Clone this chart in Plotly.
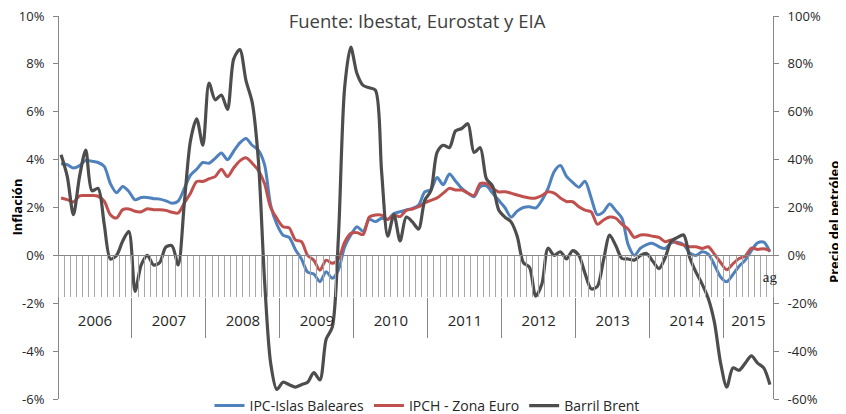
import plotly.graph_objects as go

# ---------------- data ----------------
years = [2006, 2007, 2008, 2009, 2010, 2011, 2012, 2013, 2014, 2015]
months_per_year = [12, 12, 12, 12, 12, 12, 12, 12, 12, 8]
year_labels = ["2006", "2007", "2008", "2009", "2010", "2011", "2012", "2013", "2014", "2015"]

ipc_baleares = [
    3.83, 3.79, 3.65, 3.75, 3.97, 3.93, 3.88, 3.72, 3.00, 2.62, 2.88, 2.67,
    2.32, 2.42, 2.42, 2.37, 2.35, 2.28, 2.18, 2.27, 2.80, 3.35, 3.60, 3.88,
    3.85, 4.05, 4.28, 4.00, 4.35, 4.70, 4.88, 4.60, 4.40, 3.80, 2.10, 1.30,
    0.85, 0.75, 0.25, -0.15, -0.70, -0.78, -1.10, -0.68, -0.96, -0.60, 0.35, 0.85,
    1.20, 1.00, 1.50, 1.41, 1.55, 1.50, 1.75, 1.82, 1.90, 1.96, 2.10, 2.65,
    2.75, 3.25, 2.95, 3.40, 3.10, 2.80, 2.60, 2.45, 2.87, 2.90, 2.60, 2.30,
    2.00, 1.60, 1.85, 2.00, 2.03, 1.98, 2.30, 2.80, 3.50, 3.75, 3.30, 3.05,
    2.85, 3.10, 2.40, 1.70, 1.82, 2.15, 1.87, 1.55, 0.45, 0.00, 0.30, 0.45,
    0.50, 0.36, 0.29, 0.52, 0.55, 0.45, 0.10, 0.00, 0.15, 0.05, -0.40, -0.90,
    -1.10, -0.80, -0.45, -0.20, 0.20, 0.52, 0.55, 0.15,
]

ipch_euro = [
    2.40, 2.33, 2.23, 2.49, 2.50, 2.50, 2.47, 2.26, 1.70, 1.56, 1.91, 1.94,
    1.84, 1.82, 1.95, 1.91, 1.91, 1.88, 1.80, 1.77, 2.19, 2.60, 3.09, 3.09,
    3.20, 3.29, 3.60, 3.29, 3.65, 3.95, 4.08, 3.85, 3.55, 3.00, 2.00, 1.55,
    1.20, 1.15, 0.65, 0.57, 0.00, -0.20, -0.62, -0.20, -0.33, -0.15, 0.55, 0.92,
    0.95, 0.87, 1.60, 1.69, 1.68, 1.50, 1.69, 1.62, 1.88, 1.94, 2.03, 2.20,
    2.30, 2.40, 2.60, 2.80, 2.73, 2.73, 2.60, 2.50, 3.00, 3.00, 2.80, 2.65,
    2.66, 2.60, 2.52, 2.45, 2.40, 2.40, 2.50, 2.66, 2.60, 2.40, 2.25, 2.24,
    2.03, 1.89, 1.82, 1.30, 1.48, 1.60, 1.55, 1.30, 1.10, 0.75, 0.85, 0.85,
    0.80, 0.75, 0.57, 0.64, 0.50, 0.43, 0.36, 0.36, 0.29, 0.36, 0.05, -0.30,
    -0.60, -0.35, -0.13, -0.03, 0.30, 0.25, 0.28, 0.20,
]

barril_brent = [
    42, 33, 17, 33, 44, 27, 28, 13, -1.5, 0, 6, 10,
    -15, -4, 0, -4, -3, 3.5, 4, -4, 22, 48, 57, 46,
    72, 65, 67, 61, 82, 86, 73, 64, 40, -10, -45, -56,
    -53, -54, -55, -54, -53, -49, -52, -35, -30, 8, 70, 87,
    76, 71, 70, 69, 35, 8, 17, 6, 16, 14, 11, 23,
    27, 43, 46, 45, 52, 53, 55, 43, 45, 32, 29, 19,
    16, 14, 8, -3, -5, -17, -12, 3, 0, 1.5, -1.5, 2,
    0, -7.5, -14, -13, -2, 8.5, 4, -1.3, -1.5, -2, 0, 0.8,
    -2.5, -5.5, -1, 6, 7.5, 8.5, -1, -7, -12, -18, -28, -45,
    -55, -47, -48, -45, -42, -45, -47, -54,
]

left_tickvals = [-6, -4, -2, 0, 2, 4, 6, 8, 10]
left_ticktext = ["-6%", "-4%", "-2%", "0%", "2%", "4%", "6%", "8%", "10%"]
right_tickvals = [-60, -40, -20, 0, 20, 40, 60, 80, 100]
right_ticktext = ["-60%", "-40%", "-20%", "0%", "20%", "40%", "60%", "80%", "100%"]

# ---------------- derived axis helpers ----------------
categories = [f"{y}-{m:02d}" for y, n in zip(years, months_per_year) for m in range(1, n + 1)]
n = len(categories)
month_labels = [""] * (n - 1) + ["ag"]

starts = []
s = 0
for k in months_per_year:
    starts.append(s)
    s += k
year_bounds = [st - 0.5 for st in starts[1:]]
year_centers = [st + (k - 1) / 2 for st, k in zip(starts, months_per_year)]

FONT = "Open Sans"
AXC = "#868686"
TXT = "#262626"

# page body has an 8px margin: figure is sized/offset so the plot lands where the reference has it
W, H = 838, 406
ML, MR, MT, MB = 50, 73, 8, 15
PH = H - MT - MB  # plot height in px
PW = W - ML - MR

fig = go.Figure()
fig.add_trace(go.Scatter(x=categories, y=ipc_baleares, name="IPC-Islas Baleares", mode="lines",
                         line=dict(color="#4F81BD", width=3, shape="spline", smoothing=0.8),
                         xaxis="x", yaxis="y"))
fig.add_trace(go.Scatter(x=categories, y=ipch_euro, name="IPCH - Zona Euro", mode="lines",
                         line=dict(color="#C0504D", width=3, shape="spline", smoothing=0.8),
                         xaxis="x", yaxis="y"))
fig.add_trace(go.Scatter(x=categories, y=barril_brent, name="Barril Brent", mode="lines",
                         line=dict(color="#4D4D4D", width=3.2, shape="spline", smoothing=0.8),
                         xaxis="x", yaxis="y2"))
# carriers for the year-band axes (draw nothing)
fig.add_trace(go.Scatter(x=year_bounds, y=[None] * len(year_bounds), xaxis="x2", yaxis="y",
                         mode="lines", showlegend=False, hoverinfo="skip"))
fig.add_trace(go.Scatter(x=year_centers, y=[None] * len(year_centers), xaxis="x3", yaxis="y",
                         mode="lines", showlegend=False, hoverinfo="skip"))

y0_pos = (0 - (-6)) / 16
band_pos = (-1.73 - (-6)) / 16

fig.update_layout(
    width=W, height=H,
    margin=dict(l=ML, r=MR, t=MT, b=MB, autoexpand=False),
    plot_bgcolor="white", paper_bgcolor="white",
    font=dict(family=FONT, size=13, color=TXT),
    title=dict(text="Fuente: Ibestat, Eurostat y EIA", x=(417 - 8) / W, xanchor="center",
               y=1 - (22 - 8) / H, yanchor="middle", font=dict(family=FONT, size=18.5, color="#404040")),
    showlegend=True,
    legend=dict(orientation="h", x=(427 - 58) / PW, xanchor="center", y=-7 / PH, yanchor="middle",
                font=dict(family=FONT, size=14, color=TXT), itemwidth=30,
                bgcolor="rgba(0,0,0,0)", tracegroupgap=0),
    xaxis=dict(type="category", categoryorder="array", categoryarray=categories,
               range=[-0.5, n - 0.5], anchor="free", position=y0_pos,
               showline=True, linecolor=AXC, linewidth=1,
               ticks="outside", ticklen=41, tickcolor="#a6a6a6", tickwidth=1,
               tickson="boundaries", tickmode="array", tickvals=categories, ticktext=month_labels,
               ticklabelstandoff=8, tickangle=0, ticklabeloverflow="allow",
               tickfont=dict(family="Liberation Serif", size=15, color=TXT),
               showgrid=False, zeroline=False),
    xaxis2=dict(overlaying="x", type="linear", range=[-0.5, n - 0.5], anchor="free",
                position=band_pos, ticks="outside", ticklen=40, tickcolor=AXC, tickwidth=1,
                tickmode="array", tickvals=year_bounds, showticklabels=False,
                showline=False, showgrid=False, zeroline=False),
    xaxis3=dict(overlaying="x", type="linear", range=[-0.5, n - 0.5], anchor="free",
                position=band_pos, ticks="outside", ticklen=10, tickcolor="rgba(0,0,0,0)",
                tickmode="array", tickvals=year_centers, ticktext=year_labels, tickangle=0,
                ticklabeloverflow="allow",
                tickfont=dict(family=FONT, size=15, color=TXT),
                showline=False, showgrid=False, zeroline=False),
    yaxis=dict(range=[-6, 10], anchor="free", position=0, side="left",
               tickmode="array", tickvals=left_tickvals, ticktext=left_ticktext,
               showline=True, linecolor=AXC, linewidth=1,
               ticks="outside", ticklen=5, tickcolor=AXC, ticklabelstandoff=6,
               ticklabeloverflow="allow",
               tickfont=dict(family=FONT, size=13, color=TXT),
               showgrid=False, zeroline=False),
    yaxis2=dict(range=[-60, 100], overlaying="y", anchor="free", position=1, side="right",
                tickmode="array", tickvals=right_tickvals, ticktext=right_ticktext,
                showline=True, linecolor=AXC, linewidth=1,
                ticks="outside", ticklen=5, tickcolor=AXC, ticklabelstandoff=6,
                ticklabeloverflow="allow",
                tickfont=dict(family=FONT, size=13, color=TXT),
                showgrid=False, zeroline=False),
    annotations=[
        dict(text="<b>Inflación</b>", xref="paper", yref="paper",
             x=(16.5 - 58) / PW, y=(399 - 207) / PH, textangle=-90, showarrow=False,
             xanchor="center", yanchor="middle", font=dict(family=FONT, size=13, color="#000000")),
        dict(text="<b>Precio del petróleo</b>", xref="paper", yref="paper",
             x=(834 - 58) / PW, y=(399 - 222) / PH, textangle=-90, showarrow=False,
             xanchor="center", yanchor="middle", font=dict(family=FONT, size=13, color="#000000")),
    ],
)

fig.write_html("out.html")
